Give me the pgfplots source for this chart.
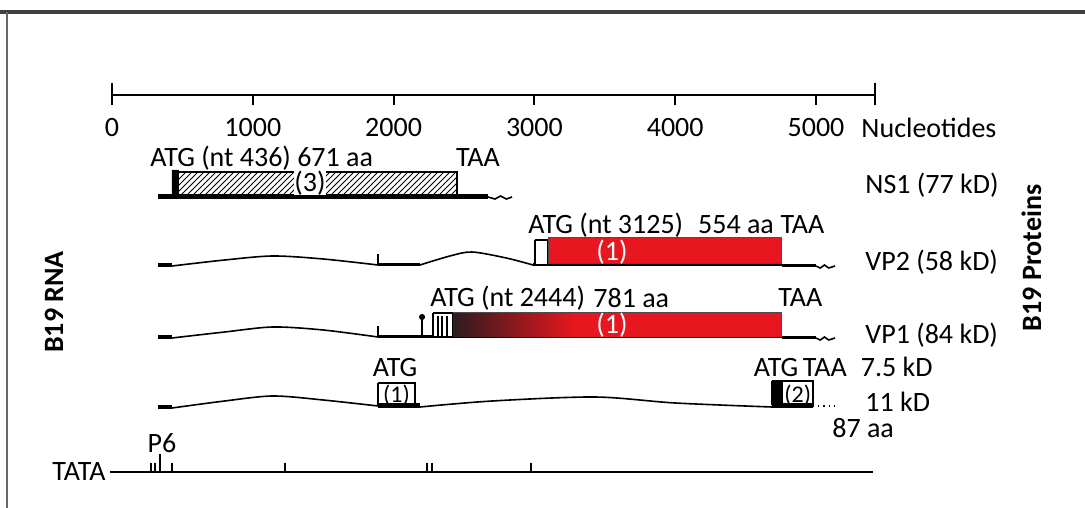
\documentclass[border=0pt]{standalone}
\usepackage{fontspec}
\setmainfont{Carlito}
\usepackage{pgfplots}
\pgfplotsset{compat=1.18}
\usetikzlibrary{patterns}
\definecolor{vpred}{RGB}{232,22,30}
\definecolor{vpdark}{RGB}{45,28,30}
\tikzset{lbl/.style={font=\fontsize{14}{16}\selectfont, inner sep=0pt}}
\begin{document}
\begin{tikzpicture}
\begin{axis}[scale only axis, width=542.5pt, height=254pt,
  xmin=-795.4, xmax=6910.2, ymin=0, ymax=508, y dir=reverse,
  hide axis, clip=false]
\coordinate (BL) at (axis cs:-795.4,508);
\coordinate (TR) at (axis cs:6910.2,0);
% frame
\addplot[draw=black!75, line width=2pt] coordinates {(-800,12) (6910.2,12)};
\addplot[draw=black!60, line width=1pt] coordinates {(-745,12) (-745,508)};
% scale
\addplot[black, line width=1pt] coordinates {(0,95) (5419,95)};
\addplot[black, line width=1pt] coordinates {(0,83) (0,105)};
\addplot[black, line width=1pt] coordinates {(5419,83) (5419,105)};
\addplot[black, line width=1pt] coordinates {(1000,95) (1000,105)};
\addplot[black, line width=1pt] coordinates {(2000,95) (2000,105)};
\addplot[black, line width=1pt] coordinates {(3000,95) (3000,105)};
\addplot[black, line width=1pt] coordinates {(4000,95) (4000,105)};
\addplot[black, line width=1pt] coordinates {(5000,95) (5000,105)};
\node[lbl] at (axis cs:0,128) {0};
\node[lbl] at (axis cs:1000,128) {1000};
\node[lbl] at (axis cs:2000,128) {2000};
\node[lbl] at (axis cs:3000,128) {3000};
\node[lbl] at (axis cs:4000,128) {4000};
\node[lbl] at (axis cs:5000,128) {5000};
\node[lbl, anchor=west] at (axis cs:5320,128) {Nucleotides};
% NS1
\addplot[black, line width=2.5pt] coordinates {(327,197) (2670,197)};
\addplot[black, line width=0.8pt] coordinates {(2670,197) (2720,199) (2760,196) (2800,199) (2841,197)};
\addplot[draw=black, line width=0.6pt, pattern=north east lines] coordinates {(469,172) (2450,172) (2450,195) (469,195) (469,172)};
\addplot[fill=black, draw=black] coordinates {(426,170) (469,170) (469,197) (426,197) (426,170)};
\node[lbl, fill=white, inner sep=0pt] at (axis cs:1406,183) {(3)};
\node[lbl, anchor=west] at (axis cs:270,158) {ATG (nt 436) 671 aa};
\node[lbl] at (axis cs:2599,158) {TAA};
\node[lbl, anchor=west] at (axis cs:5348,185) {NS1 (77 kD)};
% VP2
\addplot[black, line width=2pt] coordinates {(327,265) (426,265)};
\addplot[black, line width=0.8pt, smooth] coordinates {(426,266) (800,260) (1143,256) (1500,259) (1889,265)};
\addplot[black, line width=0.8pt] coordinates {(1889,254) (1889,265)};
\addplot[black, line width=1.5pt] coordinates {(1889,265) (2187,265)};
\addplot[black, line width=0.8pt, smooth] coordinates {(2187,265) (2400,256) (2557,252) (2800,258) (2990,265)};
\addplot[black, line width=1.5pt] coordinates {(2990,265) (4758,265)};
\addplot[fill=white, draw=black, line width=0.6pt] coordinates {(3004,240) (3097,240) (3097,265) (3004,265) (3004,240)};
\addplot[fill=vpred, draw=black!70, line width=0.5pt] coordinates {(3097,238) (4758,238) (4758,264) (3097,264) (3097,238)};
\node[lbl, text=white] at (axis cs:3551,252) {(1)};
\addplot[black, line width=1.5pt] coordinates {(4758,266) (5000,266)};
\addplot[black, line width=0.8pt] coordinates {(5000,266) (5030,268) (5060,265) (5090,268) (5135,266)};
\node[lbl, anchor=west] at (axis cs:2955,225) {ATG (nt 3125)};
\node[lbl, anchor=west] at (axis cs:4160,225) {554 aa};
\node[lbl, anchor=west] at (axis cs:4745,225) {TAA};
\node[lbl, anchor=west] at (axis cs:5348,262) {VP2 (58 kD)};
% VP1
\addplot[black, line width=2pt] coordinates {(327,337) (426,337)};
\addplot[black, line width=0.8pt, smooth] coordinates {(426,338) (800,332) (1143,327) (1500,330) (1889,337)};
\addplot[black, line width=0.8pt] coordinates {(1889,326) (1889,337)};
\addplot[black, line width=1.5pt] coordinates {(1889,337) (4758,337)};
\addplot[black, line width=0.8pt] coordinates {(2202,318) (2202,337)};
\addplot[only marks, mark=*, mark size=1.3pt, black] coordinates {(2202,317)};
\addplot[fill=white, draw=black, line width=0.6pt] coordinates {(2280,313) (2422,313) (2422,337) (2280,337) (2280,313)};
\addplot[black, line width=0.6pt] coordinates {(2315,316) (2315,337)};
\addplot[black, line width=0.6pt] coordinates {(2344,316) (2344,337)};
\addplot[black, line width=0.6pt] coordinates {(2379,316) (2379,337)};
\addplot[draw=none, left color=vpdark, right color=vpred] coordinates {(2422,313) (3290,313) (3290,337) (2422,337) (2422,313)};
\addplot[fill=vpred, draw=none] coordinates {(3285,313) (4758,313) (4758,337) (3285,337) (3285,313)};
\addplot[draw=black!70, line width=0.5pt] coordinates {(2422,313) (4758,313) (4758,337)};
\node[lbl, text=white] at (axis cs:3551,325) {(1)};
\addplot[black, line width=1.5pt] coordinates {(4758,338) (5000,338)};
\addplot[black, line width=0.8pt] coordinates {(5000,338) (5030,340) (5060,337) (5090,340) (5135,338)};
\node[lbl, anchor=west] at (axis cs:2258,298) {ATG (nt 2444)};
\node[lbl, anchor=west] at (axis cs:3416,298) {781 aa};
\node[lbl, anchor=west] at (axis cs:4730,298) {TAA};
\node[lbl, anchor=west] at (axis cs:5348,335) {VP1 (84 kD)};
% 7.5 kD / 11 kD
\addplot[black, line width=2pt] coordinates {(327,407) (426,407)};
\addplot[black, line width=0.8pt, smooth] coordinates {(426,408) (800,401) (1143,396) (1500,400) (1889,406)};
\addplot[fill=white, draw=black, line width=0.8pt] coordinates {(1889,383) (2152,383) (2152,405) (1889,405) (1889,383)};
\node[lbl, font=\fontsize{12}{13}\selectfont] at (axis cs:2020,395) {(1)};
\addplot[black, line width=2.5pt] coordinates {(1889,406) (2187,406)};
\addplot[black, line width=0.8pt, smooth] coordinates {(2187,407) (2700,401) (3430,397) (4000,403) (4687,407)};
\addplot[fill=white, draw=black, line width=0.8pt] coordinates {(4687,381) (4978,381) (4978,404) (4687,404) (4687,381)};
\addplot[fill=black, draw=black] coordinates {(4687,381) (4758,381) (4758,406) (4687,406) (4687,381)};
\node[lbl, font=\fontsize{12}{13}\selectfont] at (axis cs:4870,395) {(2)};
\addplot[black, line width=2pt] coordinates {(4687,406) (4978,406)};
\addplot[black, line width=0.6pt, dotted] coordinates {(4978,406) (5135,406)};
\node[lbl] at (axis cs:2010,368) {ATG};
\node[lbl, anchor=west] at (axis cs:4555,367) {ATG\,TAA\enspace 7.5 kD};
\node[lbl, anchor=west] at (axis cs:5348,402) {11 kD};
\node[lbl, anchor=west] at (axis cs:5113,428) {87 aa};
% TATA
\addplot[black, line width=1pt] coordinates {(-14,472) (5405,472)};
\node[lbl, anchor=east] at (axis cs:-43,472) {TATA};
\addplot[black, line width=1pt] coordinates {(277,463) (277,472)};
\addplot[black, line width=1pt] coordinates {(305,463) (305,472)};
\addplot[black, line width=1pt] coordinates {(341,454) (341,472)};
\addplot[black, line width=1pt] coordinates {(426,463) (426,472)};
\addplot[black, line width=1pt] coordinates {(1229,463) (1229,472)};
\addplot[black, line width=1pt] coordinates {(2237,463) (2237,472)};
\addplot[black, line width=1pt] coordinates {(2273,463) (2273,472)};
\addplot[black, line width=1pt] coordinates {(2976,463) (2976,472)};
\node[lbl] at (axis cs:355,443) {P6};
% side labels
\node[lbl, rotate=90, font=\bfseries\fontsize{14}{16}\selectfont] at (axis cs:-412,302) {B19 RNA};
\node[lbl, rotate=90, font=\bfseries\fontsize{14}{16}\selectfont] at (axis cs:6530,258) {B19 Proteins};
\end{axis}
\pgfresetboundingbox
\path[use as bounding box] (BL) rectangle (TR);
\end{tikzpicture}
\end{document}
